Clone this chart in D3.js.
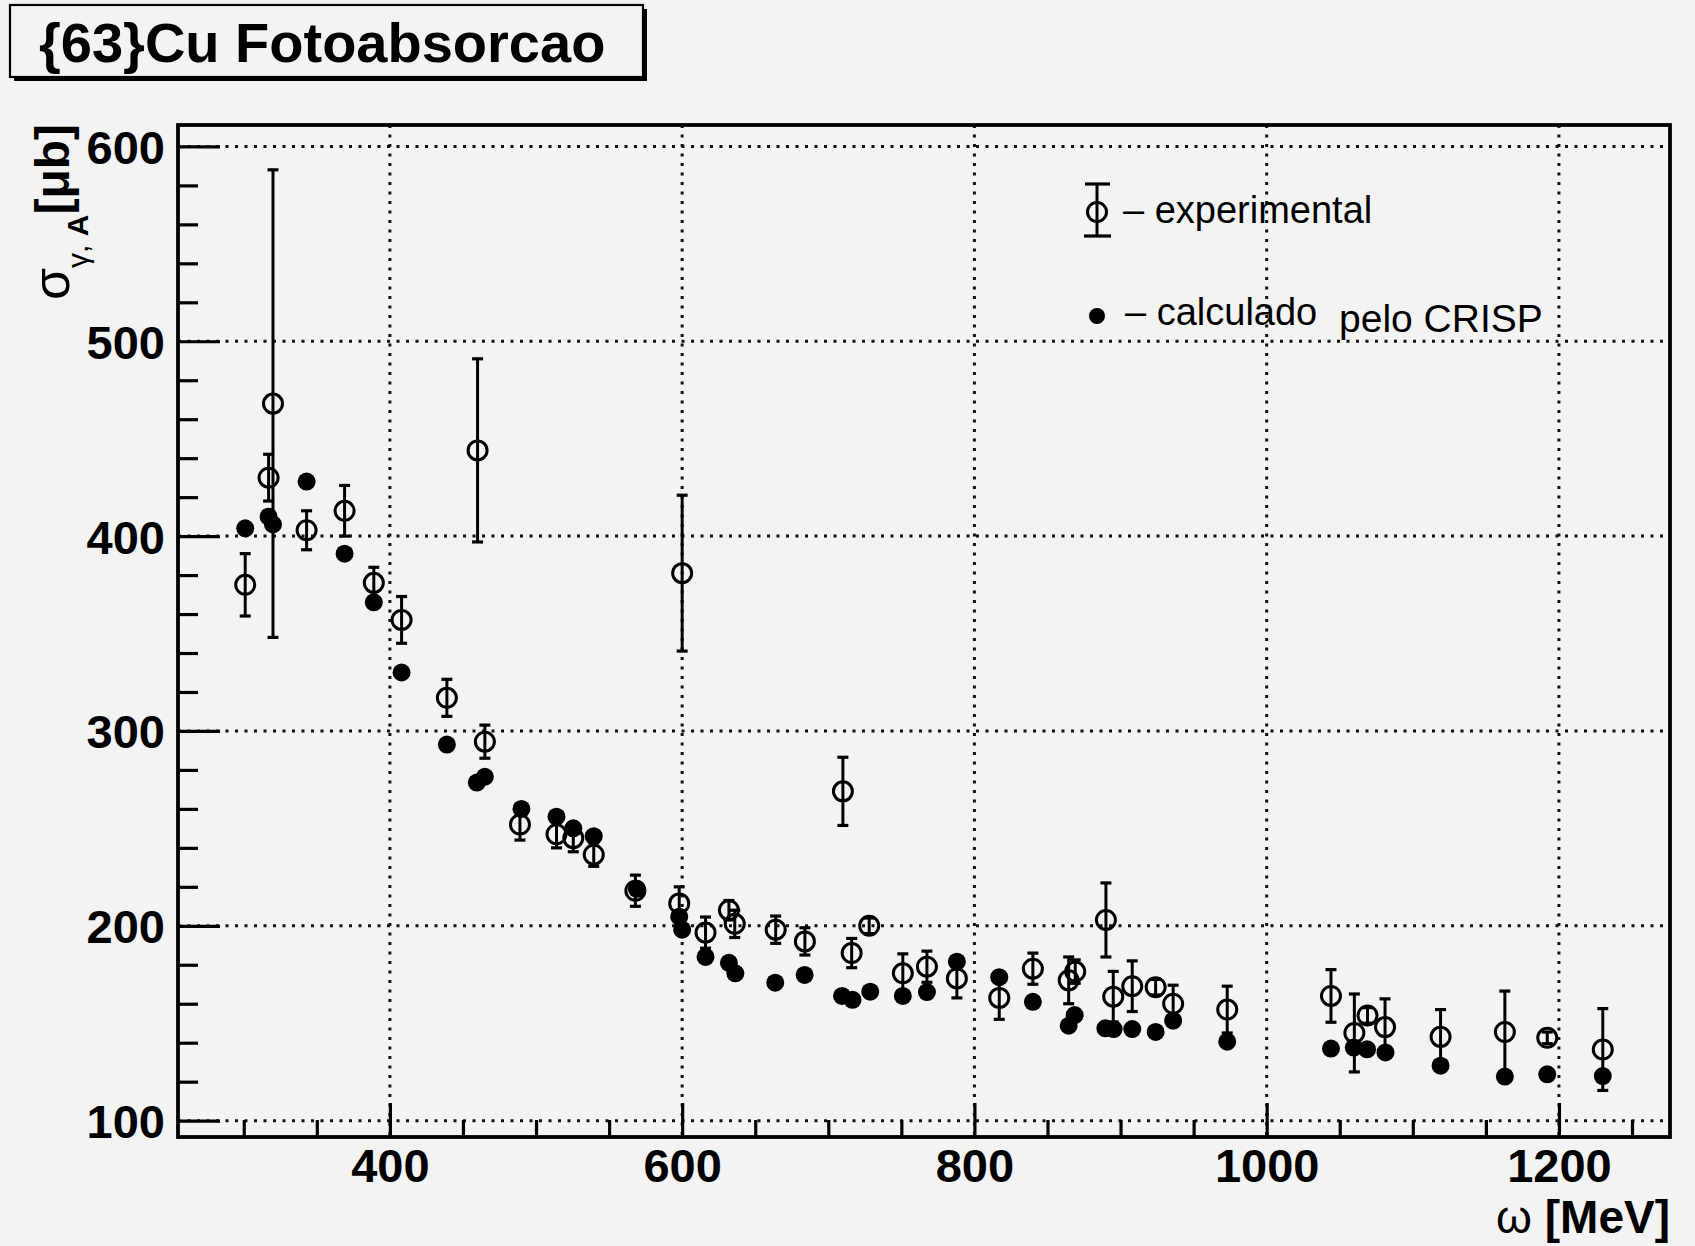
<!DOCTYPE html>
<html>
<head>
<meta charset="utf-8">
<script src="https://cdn.jsdelivr.net/npm/d3@7"></script>
<style>
  body { margin: 0; background: #f3f3f3; }
  svg { display: block; }
</style>
</head>
<body>
<script>
// experimental points: energy (MeV), cross section (microbarn), error
var expEnergy = [301, 317, 320, 343, 369, 389, 408, 439, 460, 465,
  489, 514, 525.5, 539.5, 568, 598, 600, 616, 632, 636,
  664, 684, 710, 716, 728, 751, 767.5, 788, 817, 840,
  864.5, 869, 890, 895, 908, 924, 936, 973, 1044, 1060,
  1069, 1081, 1119, 1163, 1192, 1230]
var expSigma = [375, 430, 468, 403, 413, 376, 357, 317, 444, 294.5,
  252, 247, 245, 236.5, 218, 211.5, 381, 196.5, 208, 201,
  198, 192, 269, 186, 200, 175.6, 179, 173, 163, 178,
  172, 176.5, 203, 163.6, 169, 168.5, 160, 157, 164, 145,
  154, 148, 143, 145.5, 142.5, 136.5]
var expErr = [16, 12, 120, 10, 13, 8, 12, 9.5, 47, 8.5,
  8, 7, 7, 6, 8, 8.5, 40, 8, 5, 7,
  7, 7, 17.5, 7.5, 4, 10, 8, 10, 11, 8,
  12, 6, 19, 13, 13, 4, 9.5, 12, 13.5, 20,
  4, 14.5, 14, 21, 3, 21]

// CRISP calculation
var calcEnergy = [301, 317, 320, 343, 369, 389, 408, 439, 459.5, 465,
  490, 514, 525.5, 539.5, 569, 598, 600, 616, 632, 636.4,
  663.7, 683.8, 709.4, 716.6, 728.7, 751, 767.5, 788, 817, 840,
  864.5, 868.6, 889.6, 895.3, 908, 924, 936, 973, 1044, 1059.6,
  1068.7, 1081.3, 1119, 1163, 1192, 1230]
var calcSigma = [404, 410, 406, 428, 391, 366, 330, 293, 273.5, 276.5,
  260, 256, 250, 246, 219, 204.7, 198, 184, 181, 175.6,
  170.8, 174.8, 164, 162, 166.2, 164, 166, 181.6, 173.6, 161,
  148.7, 154.2, 147.4, 147, 147, 145.5, 151.3, 140.5, 137, 137.5,
  136.6, 135, 128.2, 122.6, 123.8, 122.9]

var xMajor = [400, 600, 800, 1000, 1200]
var xMinor = [300, 350, 450, 500, 550, 650, 700, 750, 850, 900, 950, 1050, 1100, 1150, 1250]
var yMajor = [100, 200, 300, 400, 500, 600]
var yMinor = [120, 140, 160, 180, 220, 240, 260, 280, 320, 340, 360, 380, 420, 440, 460, 480, 520, 540, 560, 580]

var width = 1695
var height = 1246
var padL = 178, padR = 1670, padT = 125, padB = 1137
var font = "'Liberation Sans', Arial, Helvetica, sans-serif"

var svg = d3.select("body").append("svg")
  .attr("width", width)
  .attr("height", height)
  .style("background", "#f3f3f3")

var x = d3.scaleLinear().domain([255, 1276]).range([padL, padR])
var y = d3.scaleLinear().domain([91.6, 611]).range([padB, padT])

// grid
var grid = svg.append("g")
  .attr("stroke", "#111").attr("stroke-width", 3)
  .attr("stroke-dasharray", "3,6.5")
grid.selectAll(".gx").data(xMajor).enter().append("line")
  .attr("x1", d => x(d)).attr("x2", d => x(d))
  .attr("y1", padT).attr("y2", padB)
grid.selectAll(".gy").data(yMajor).enter().append("line")
  .attr("x1", padL).attr("x2", padR)
  .attr("y1", d => y(d)).attr("y2", d => y(d))

// axes
function styleAxis(g) {
  g.select(".domain").remove()
  g.selectAll(".tick line").attr("stroke", "#000").attr("stroke-width", 3.2)
  g.selectAll(".tick text")
    .attr("font-family", font).attr("font-weight", "bold")
    .attr("font-size", 47).attr("fill", "#000")
}

svg.append("g").attr("transform", "translate(" + padL + ",0)")
  .call(d3.axisLeft(y).tickValues(yMinor).tickSizeInner(-20).tickSizeOuter(0).tickFormat(""))
  .call(styleAxis)
svg.append("g").attr("transform", "translate(" + padL + ",0)")
  .call(d3.axisLeft(y).tickValues(yMajor).tickSizeInner(-42).tickSizeOuter(0).tickPadding(13).tickFormat(d3.format("d")))
  .call(styleAxis)
  .selectAll(".tick text").attr("dy", "0.36em")

svg.append("g").attr("transform", "translate(0," + padB + ")")
  .call(d3.axisBottom(x).tickValues(xMinor).tickSizeInner(-17).tickSizeOuter(0).tickFormat(""))
  .call(styleAxis)
svg.append("g").attr("transform", "translate(0," + padB + ")")
  .call(d3.axisBottom(x).tickValues(xMajor).tickSizeInner(-34).tickSizeOuter(0).tickPadding(12).tickFormat(d3.format("d")))
  .call(styleAxis)
  .selectAll(".tick text").attr("dy", "0.71em")

// frame
svg.append("rect")
  .attr("x", padL).attr("y", padT)
  .attr("width", padR - padL).attr("height", padB - padT)
  .attr("fill", "none").attr("stroke", "#000").attr("stroke-width", 3.8)

// experimental: error bars + open circles
var exp = expEnergy.map((e, i) => ({e: e, s: expSigma[i], err: expErr[i]}))
var calc = calcEnergy.map((e, i) => ({e: e, s: calcSigma[i]}))

var eg = svg.append("g").attr("stroke", "#000")
var bars = eg.selectAll("g.bar").data(exp).enter().append("g")
bars.append("line")
  .attr("x1", d => x(d.e)).attr("x2", d => x(d.e))
  .attr("y1", d => y(d.s - d.err)).attr("y2", d => y(d.s + d.err))
  .attr("stroke-width", 3)
bars.append("line")
  .attr("x1", d => x(d.e) - 5.5).attr("x2", d => x(d.e) + 5.5)
  .attr("y1", d => y(d.s + d.err)).attr("y2", d => y(d.s + d.err))
  .attr("stroke-width", 3.2)
bars.append("line")
  .attr("x1", d => x(d.e) - 5.5).attr("x2", d => x(d.e) + 5.5)
  .attr("y1", d => y(d.s - d.err)).attr("y2", d => y(d.s - d.err))
  .attr("stroke-width", 3.2)
bars.append("circle")
  .attr("cx", d => x(d.e)).attr("cy", d => y(d.s)).attr("r", 9.5)
  .attr("fill", "none").attr("stroke-width", 3)

svg.append("g").selectAll("circle").data(calc).enter().append("circle")
  .attr("cx", d => x(d.e)).attr("cy", d => y(d.s)).attr("r", 9)
  .attr("fill", "#000")

// legend
var lg = svg.append("g").attr("font-family", font).attr("fill", "#000")
lg.append("line").attr("x1", 1097).attr("x2", 1097).attr("y1", 184).attr("y2", 236)
  .attr("stroke", "#000").attr("stroke-width", 3)
lg.append("line").attr("x1", 1085).attr("x2", 1110).attr("y1", 184).attr("y2", 184)
  .attr("stroke", "#000").attr("stroke-width", 3.2)
lg.append("line").attr("x1", 1084).attr("x2", 1111).attr("y1", 236).attr("y2", 236)
  .attr("stroke", "#000").attr("stroke-width", 3.2)
lg.append("circle").attr("cx", 1097).attr("cy", 212).attr("r", 9.5)
  .attr("fill", "none").attr("stroke", "#000").attr("stroke-width", 3)
lg.append("text").attr("x", 1123).attr("y", 223).attr("font-size", 38).text("\u2013 experimental")
lg.append("circle").attr("cx", 1097).attr("cy", 316).attr("r", 8)
lg.append("text").attr("x", 1125).attr("y", 325).attr("font-size", 38).text("\u2013 calculado")
lg.append("text").attr("x", 1339).attr("y", 332).attr("font-size", 39).text("pelo CRISP")

// axis titles
var yt = svg.append("text")
  .attr("transform", "translate(69,300) rotate(-90)")
  .attr("font-family", font).attr("fill", "#000")
yt.append("tspan").attr("font-size", 52).text("\u03c3")
yt.append("tspan").attr("font-size", 30).attr("dy", 19).text("\u03b3, ")
yt.append("tspan").attr("font-size", 30).attr("font-weight", "bold").text("A")
yt.append("tspan").attr("font-size", 48).attr("font-weight", "bold").attr("dy", -19).text("[\u03bcb]")

var xt = svg.append("text")
  .attr("x", padR).attr("y", 1233).attr("text-anchor", "end")
  .attr("font-family", font).attr("fill", "#000")
xt.append("tspan").attr("font-size", 46).text("\u03c9 ")
xt.append("tspan").attr("font-size", 46).attr("font-weight", "bold").text("[MeV]")

// title box
svg.append("rect").attr("x", 14).attr("y", 9).attr("width", 633).attr("height", 72).attr("fill", "#000")
svg.append("rect").attr("x", 10).attr("y", 5).attr("width", 633).attr("height", 72)
  .attr("fill", "#f3f3f3").attr("stroke", "#000").attr("stroke-width", 2.2)
svg.append("text").attr("x", 39).attr("y", 62)
  .attr("font-family", font).attr("font-weight", "bold").attr("font-size", 56)
  .text("{63}Cu Fotoabsorcao")
</script>
</body>
</html>
